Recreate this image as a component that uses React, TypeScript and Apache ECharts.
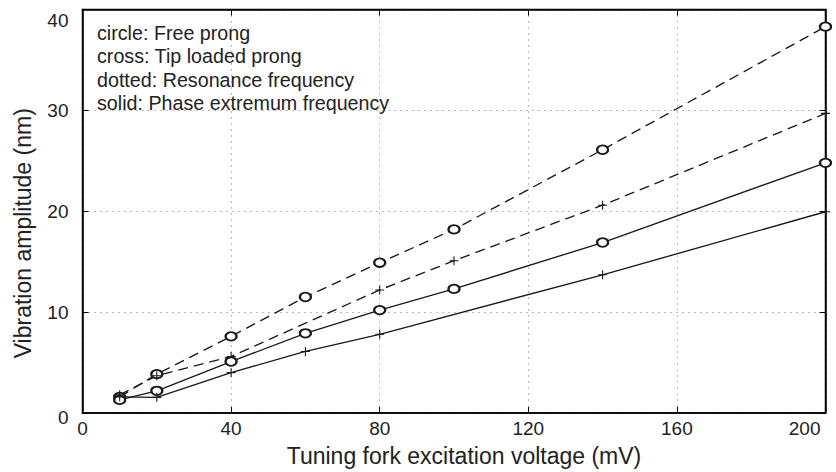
import React, { useEffect, useRef } from "react";
import * as echarts from "echarts";

const FONT = '"Liberation Sans", Arial, Helvetica, sans-serif';
const INK = "#1a1a1a";

// x values (mV)
const voltages = [10, 20, 40, 60, 80, 100, 140, 200];
// circle + dashed: free prong, resonance frequency
const freeResonance = [1.6, 3.85, 7.6, 11.5, 14.9, 18.2, 26.1, 38.3];
// cross + dashed: tip loaded prong, resonance frequency (no point at 60 mV)
const tipResonanceX = [10, 20, 40, 80, 100, 140, 200];
const tipResonance = [1.8, 3.7, 5.6, 12.2, 15.1, 20.6, 29.7];
// circle + solid: free prong, phase extremum frequency
const freePhase = [1.3, 2.2, 5.1, 7.9, 10.2, 12.3, 16.9, 24.8];
// cross + solid: tip loaded prong, phase extremum frequency (no point at 100 mV)
const tipPhaseX = [10, 20, 40, 60, 80, 140, 200];
const tipPhase = [1.6, 1.55, 4.0, 6.1, 7.8, 13.7, 19.95];

const legendLines = [
  "circle: Free prong",
  "cross: Tip loaded prong",
  "dotted: Resonance frequency",
  "solid: Phase extremum frequency",
];

const xTitle = "Tuning fork excitation voltage (mV)";
const yTitle = "Vibration amplitude (nm)";

const PLUS =
  "path://M4.4,0H5.6V4.4H10V5.6H5.6V10H4.4V5.6H0V4.4H4.4Z";

const pairs = (xs: number[], ys: number[]) => xs.map((x, i) => [x, ys[i]]);

function makeSeries(
  name: string,
  data: number[][],
  kind: "circle" | "cross",
  dashed: boolean
) {
  return {
    name,
    type: "line",
    data,
    showSymbol: true,
    symbol: kind === "circle" ? "emptyCircle" : PLUS,
    symbolSize: kind === "circle" ? [11, 8.5] : 9,
    lineStyle: {
      color: INK,
      width: 1.35,
      type: dashed ? [10, 6] : "solid",
    },
    itemStyle:
      kind === "circle"
        ? { color: INK, borderColor: INK, borderWidth: 1 }
        : { color: INK, borderWidth: 0 },
    emphasis: { disabled: true },
    z: 3,
  };
}

export default function App() {
  const ref = useRef<HTMLDivElement>(null);
  useEffect(() => {
    const chart = echarts.init(ref.current!, null, { renderer: "svg" });
    const axisCommon = {
      type: "value",
      axisLine: { show: true, onZero: false, lineStyle: { color: "#000", width: 1.5 } },
      axisTick: { show: true, inside: true, length: 6, lineStyle: { color: "#000", width: 1 } },
    };
    chart.setOption({
      animation: false,
      backgroundColor: "#fff",
      textStyle: { fontFamily: FONT },
      grid: {
        left: 82.5,
        right: 10.5,
        top: 9.5,
        bottom: 52.7,
        show: true,
        borderColor: "#000",
        borderWidth: 1.5,
        backgroundColor: "transparent",
      },
      xAxis: [
        {
          ...axisCommon,
          min: 0,
          max: 200,
          interval: 40,
          axisLabel: {
            margin: 6,
            color: "#222",
            fontSize: 19,
            fontFamily: FONT,
            alignMaxLabel: "right",
            formatter: (v: number) => (v === 200 ? "{r|200}" : String(v)),
            rich: { r: { padding: [0, 5, 0, 0], fontSize: 19, color: "#222", fontFamily: FONT } },
          },
          splitLine: { show: true, lineStyle: { type: [1, 5], color: "#777", width: 1 } },
          name: xTitle,
          nameLocation: "middle",
          nameGap: 31,
          nameTextStyle: { fontSize: 23, color: "#222", fontFamily: FONT, padding: [0, 0, 0, 20] },
        },
        {
          ...axisCommon,
          position: "top",
          min: 0,
          max: 200,
          interval: 40,
          axisLabel: { show: false },
          splitLine: { show: false },
        },
      ],
      yAxis: [
        {
          ...axisCommon,
          min: 0,
          max: 40,
          interval: 10,
          axisLabel: {
            margin: 14,
            color: "#222",
            fontSize: 19,
            fontFamily: FONT,
            formatter: (v: number) =>
              v === 40 ? "{t|40}" : v === 0 ? "{b|0}" : String(v),
            rich: {
              t: { padding: [22, 0, 0, 0], fontSize: 19, color: "#222", fontFamily: FONT },
              b: { padding: [8, 0, 0, 0], fontSize: 19, color: "#222", fontFamily: FONT },
            },
          },
          splitLine: { show: true, lineStyle: { type: [1, 5], color: "#777", width: 1 } },
          name: yTitle,
          nameLocation: "middle",
          nameGap: 48,
          nameRotate: 90,
          nameTextStyle: { fontSize: 23, color: "#222", fontFamily: FONT, padding: [0, 44, 0, 0] },
        },
        {
          ...axisCommon,
          position: "right",
          min: 0,
          max: 40,
          interval: 10,
          axisLabel: { show: false },
          splitLine: { show: false },
        },
      ],
      graphic: legendLines.map((t, i) => ({
        type: "text",
        x: 97,
        y: 33 + i * 23.4,
        silent: true,
        style: {
          text: t,
          fill: "#222",
          font: `19.7px ${FONT}`,
          verticalAlign: "middle",
          align: "left",
        },
      })),
      series: [
        makeSeries("Free prong, resonance", pairs(voltages, freeResonance), "circle", true),
        makeSeries("Tip loaded prong, resonance", pairs(tipResonanceX, tipResonance), "cross", true),
        makeSeries("Free prong, phase extremum", pairs(voltages, freePhase), "circle", false),
        makeSeries("Tip loaded prong, phase extremum", pairs(tipPhaseX, tipPhase), "cross", false),
      ],
    });
    return () => chart.dispose();
  }, []);
  return (
    <div
      ref={ref}
      style={{ position: "fixed", left: 0, top: 0, width: 836, height: 472 }}
    />
  );
}
